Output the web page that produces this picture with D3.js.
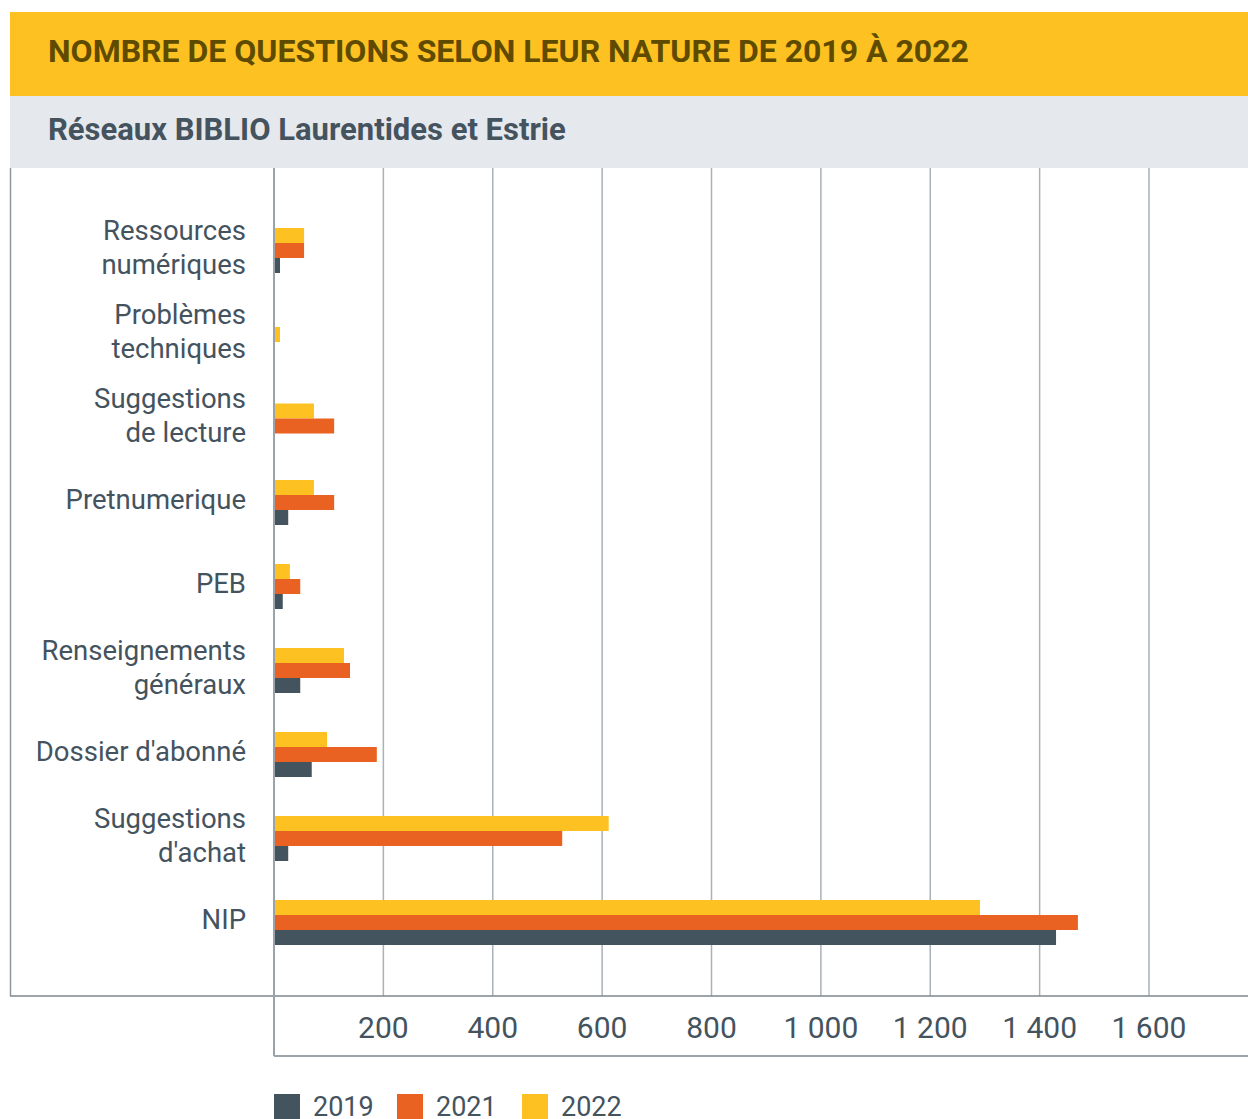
<!DOCTYPE html>
<html>
<head>
<meta charset="utf-8">
<script src="https://cdn.jsdelivr.net/npm/d3@7"></script>
<style>
  body { margin: 0; background: #fff; }
  svg { display: block; font-family: Roboto, "Noto Sans", sans-serif; }
</style>
</head>
<body>
<div class="container"></div>
<script>
const categories = ["Ressources\nnumériques", "Problèmes\ntechniques", "Suggestions\nde lecture", "Pretnumerique", "PEB", "Renseignements\ngénéraux", "Dossier d'abonné", "Suggestions\nd'achat", "NIP"];
const years = ["2019", "2021", "2022"];
const values2019 = [11, 0, 0, 26, 16, 48, 69, 26, 1430];
const values2021 = [55, 0, 110, 110, 48, 139, 188, 527, 1470];
const values2022 = [55, 11, 73, 73, 29, 128, 97, 612, 1291];
const xTicks = [200, 400, 600, 800, 1000, 1200, 1400, 1600];

const colors = {"2019": "#44545f", "2021": "#e96221", "2022": "#fdc221"};
const series = {"2019": values2019, "2021": values2021, "2022": values2022};

const width = 1248, height = 1119;
const svg = d3.select(".container").append("svg")
  .attr("width", width).attr("height", height);

// header bands
svg.append("rect").attr("x", 10).attr("y", 12).attr("width", width - 10).attr("height", 84).attr("fill", "#fdc221");
svg.append("text").attr("x", 48).attr("y", 62)
  .attr("font-size", 32).attr("font-weight", 700).attr("fill", "#5f4b00")
  .text("NOMBRE DE QUESTIONS SELON LEUR NATURE DE 2019 À 2022");
svg.append("rect").attr("x", 10).attr("y", 96).attr("width", width - 10).attr("height", 72).attr("fill", "#e5e8ed");
svg.append("text").attr("x", 48).attr("y", 140)
  .attr("font-size", 31).attr("font-weight", 700).attr("fill", "#44535e")
  .text("Réseaux BIBLIO Laurentides et Estrie");

const x = d3.scaleLinear().domain([0, 1600]).range([274, 1149]);
const y0 = d3.scaleBand().domain(categories).range([208.5, 964.5]);
const barH = 15;

const fmt = d3.formatLocale({decimal: ",", thousands: "\u00a0", grouping: [3], currency: ["", ""]}).format(",d");

// frame
const grid = svg.append("g");
grid.selectAll("line.g").data(xTicks).enter().append("line")
  .attr("x1", d => x(d)).attr("x2", d => x(d))
  .attr("y1", 168).attr("y2", 996)
  .attr("stroke", "#aab1b8").attr("stroke-width", 1.5);
svg.append("line").attr("x1", 10.5).attr("x2", 10.5).attr("y1", 168).attr("y2", 996)
  .attr("stroke", "#8f989f").attr("stroke-width", 1.5);
svg.append("line").attr("x1", 10).attr("x2", width).attr("y1", 996).attr("y2", 996)
  .attr("stroke", "#7d878f").attr("stroke-width", 1.5);
svg.append("line").attr("x1", 274).attr("x2", width).attr("y1", 1056).attr("y2", 1056)
  .attr("stroke", "#7d878f").attr("stroke-width", 1.5);

// bars: only non-empty series, centred in each category band (2022 on top)
const groups = svg.append("g").selectAll("g").data(categories).enter().append("g")
  .attr("transform", d => `translate(0,${y0(d) + y0.bandwidth() / 2})`);
groups.each(function(d, i) {
  const bars = ["2022", "2021", "2019"].map(k => ({k: k, v: series[k][i]})).filter(b => b.v > 0);
  const y1 = d3.scaleBand().domain(bars.map(b => b.k))
    .range([-bars.length * barH / 2, bars.length * barH / 2]);
  d3.select(this).selectAll("rect").data(bars).enter().append("rect")
    .attr("x", x(0))
    .attr("y", b => y1(b.k))
    .attr("width", b => x(b.v) - x(0))
    .attr("height", y1.bandwidth())
    .attr("fill", b => colors[b.k]);
});

svg.append("line").attr("x1", 274).attr("x2", 274).attr("y1", 168).attr("y2", 1056)
  .attr("stroke", "#9aa3aa").attr("stroke-width", 2);

// category labels
const labels = svg.append("g").selectAll("text").data(categories).enter().append("text")
  .attr("text-anchor", "end").attr("font-size", 27.5).attr("fill", "#44535e")
  .attr("transform", d => `translate(246,${y0(d) + y0.bandwidth() / 2 - 3})`);
labels.each(function(d) {
  const lines = d.split("\n");
  const t = d3.select(this);
  lines.forEach((l, i) => {
    t.append("tspan").attr("x", 0)
      .attr("y", (i - (lines.length - 1) / 2) * 34)
      .attr("dy", "0.35em").text(l);
  });
});

// x tick labels
svg.append("g").selectAll("text").data(xTicks).enter().append("text")
  .attr("x", d => x(d)).attr("y", 1038)
  .attr("text-anchor", "middle").attr("font-size", 30).attr("fill", "#44535e")
  .text(d => fmt(d));

// legend
const legendX = [274, 397, 522];
const lg = svg.append("g").selectAll("g").data(years).enter().append("g")
  .attr("transform", (d, i) => `translate(${legendX[i]},1094)`);
lg.append("rect").attr("width", 26).attr("height", 26).attr("fill", d => colors[d]);
lg.append("text").attr("x", 39).attr("y", 22).attr("font-size", 27).attr("fill", "#44535e").text(d => d);
</script>
</body>
</html>
